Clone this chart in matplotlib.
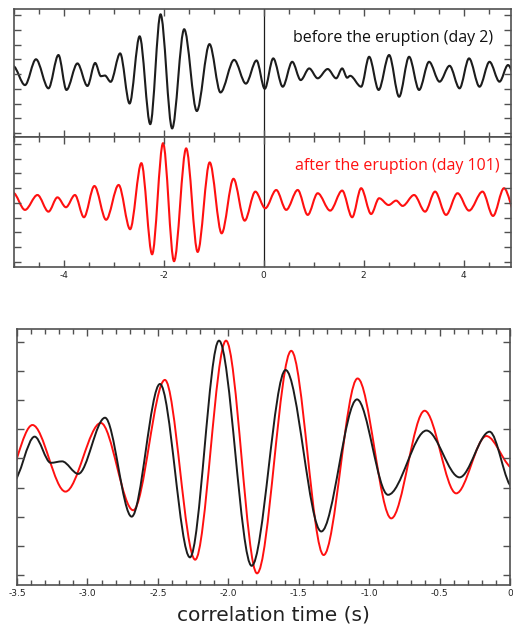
import matplotlib
matplotlib.use('Agg')
import matplotlib.pyplot as plt
from matplotlib.path import Path
from matplotlib.patches import PathPatch
from matplotlib.ticker import MultipleLocator, FixedLocator, NullFormatter

plt.rcParams['axes.unicode_minus'] = False

# Peaks and troughs of the correlation functions (time in s, amplitude).
black_t = [-5.02, -4.78, -4.56, -4.31, -4.11, -3.95, -3.73, -3.53, -3.375,
           -3.26, -3.18, -3.065, -2.875, -2.686, -2.485, -2.272, -2.066,
           -1.834, -1.593, -1.34, -1.086, -0.866, -0.593, -0.358, -0.145,
           0.02, 0.19, 0.38, 0.57, 0.74, 0.91, 1.08, 1.28, 1.45, 1.57, 1.67,
           1.73, 1.95, 2.11, 2.30, 2.51, 2.71, 2.91, 3.11, 3.31, 3.52, 3.72,
           3.92, 4.11, 4.32, 4.52, 4.72, 4.89, 5.08]
black_a = [0.55, -0.75, 1.00, -0.97, 1.29, -1.08, 0.72, -0.81, 0.75,
           -0.15, -0.10, -0.53, 1.40, -2.00, 2.56, -3.40, 4.05,
           -3.69, 3.04, -2.51, 2.03, -1.25, 0.96, -0.65, 0.92,
           -1.00, 1.06, -0.86, 0.83, -0.41, 0.38, -0.29, 0.34, -0.29, 0.38, -0.25,
           -0.12, -0.86, 1.17, -1.08, 1.29, -1.54, 1.17, -1.08, 0.83, -0.52, 0.56,
           -0.97, 1.06, -0.86, 0.83, -0.52, 0.61, -0.60]

red_t = [-5.02, -4.78, -4.53, -4.31, -4.13, -3.96, -3.78, -3.60, -3.39,
         -3.156, -2.905, -2.675, -2.45, -2.235, -2.016, -1.796, -1.553,
         -1.323, -1.082, -0.843, -0.606, -0.382, -0.168, 0.03, 0.25, 0.45,
         0.68, 0.88, 1.08, 1.33, 1.57, 1.77, 1.95, 2.15, 2.31, 2.50, 2.65,
         2.78, 3.01, 3.23, 3.43, 3.65, 3.88, 4.11, 4.38, 4.59, 4.81, 5.05]
red_a = [0.70, -0.47, 0.54, -0.59, 0.38, -0.29, 0.54, -0.97, 1.15,
         -1.14, 1.22, -1.78, 2.70, -3.48, 4.05, -3.95, 3.70,
         -3.32, 2.75, -2.06, 1.64, -1.20, 0.77, -0.36, 0.88, -0.47,
         0.88, -0.81, 0.66, -0.52, 0.84, -0.97, 1.00, -0.75, 0.32, -0.14, 0.16,
         -0.20, 0.54, -0.59, 0.77, -0.81, 0.66, -0.52, 0.77, -0.88, 1.00, -0.80]

wide_ticks = [-4, -2, 0, 2, 4]
wide_labels = ['-4', '-2', '0', '2', '4']
zoom_ticks = [-3.5, -3.0, -2.5, -2.0, -1.5, -1.0, -0.5, 0.0]
zoom_labels = ['-3.5', '-3.0', '-2.5', '-2.0', '-1.5', '-1.0', '-0.5', '0']

BLACK = '#1c1c1c'
RED = '#ff1010'
SPINE = '#505050'


def wave_path(ts, vs):
    # smooth curve through the extrema, flat tangent at every peak and trough
    verts = [(ts[0], vs[0])]
    codes = [Path.MOVETO]
    for t0, v0, t1, v1 in zip(ts[:-1], vs[:-1], ts[1:], vs[1:]):
        dt = (t1 - t0) / 3
        verts += [(t0 + dt, v0), (t1 - dt, v1), (t1, v1)]
        codes += [Path.CURVE4] * 3
    return Path(verts, codes)


def draw_wave(ax, ts, vs, color, lw):
    ax.add_patch(PathPatch(wave_path(ts, vs), fill=False, edgecolor=color,
                           lw=lw, joinstyle='round', capstyle='round'))


def style_axes(ax):
    for s in ax.spines.values():
        s.set_color(SPINE)
        s.set_linewidth(1.2)
    ax.yaxis.set_major_locator(FixedLocator(range(-4, 5)))
    ax.yaxis.set_major_formatter(NullFormatter())
    ax.tick_params(which='both', direction='in', top=True, right=True,
                   color=SPINE, width=1.0)
    ax.tick_params(which='major', length=5)
    ax.tick_params(which='minor', length=3.5)
    ax.tick_params(axis='x', labelsize=6.5, pad=3, labelcolor='#222222')


fig = plt.figure(figsize=(5.13, 6.29), dpi=100)

ax_top = fig.add_axes([14 / 513, 1 - 137 / 629, 497 / 513, 128 / 629])
ax_mid = fig.add_axes([14 / 513, 1 - 267 / 629, 497 / 513, 130 / 629])
ax_zoom = fig.add_axes([17 / 513, 1 - 585 / 629, 493 / 513, 256 / 629])

for ax, ylim in ((ax_top, (-4.27, 4.41)), (ax_mid, (-4.34, 4.47))):
    style_axes(ax)
    ax.set_xlim(-5, 4.95)
    ax.set_ylim(*ylim)
    ax.xaxis.set_major_locator(FixedLocator(wide_ticks))
    ax.xaxis.set_minor_locator(MultipleLocator(0.5))
    ax.axvline(0, color=BLACK, lw=0.9, zorder=1)

ax_top.set_xticklabels([])
ax_mid.set_xticklabels(wide_labels)

draw_wave(ax_top, black_t, black_a, BLACK, 1.5)
draw_wave(ax_mid, red_t, red_a, RED, 1.5)

ax_top.text(0.964, 0.775, 'before the eruption (day 2)', transform=ax_top.transAxes,
            ha='right', va='center', fontsize=11.5, color='#111111',
            family='Open Sans')
ax_mid.text(0.978, 0.775, 'after the eruption (day 101)', transform=ax_mid.transAxes,
            ha='right', va='center', fontsize=11.5, color=RED,
            family='Open Sans')

# close-up of the main arrival, both days on top of each other
style_axes(ax_zoom)
ax_zoom.set_xlim(-3.5, 0)
ax_zoom.set_ylim(-4.35, 4.45)
ax_zoom.xaxis.set_major_locator(FixedLocator(zoom_ticks))
ax_zoom.xaxis.set_minor_locator(MultipleLocator(0.1))
ax_zoom.set_xticklabels(zoom_labels)
draw_wave(ax_zoom, red_t, red_a, RED, 1.4)
draw_wave(ax_zoom, black_t, black_a, BLACK, 1.4)
ax_zoom.set_xlabel('correlation time (s)', fontsize=14.5, color='#222222',
                   labelpad=5)
ax_zoom.xaxis.set_label_coords(0.521, -0.08)

fig.savefig('out.png', dpi=100)
